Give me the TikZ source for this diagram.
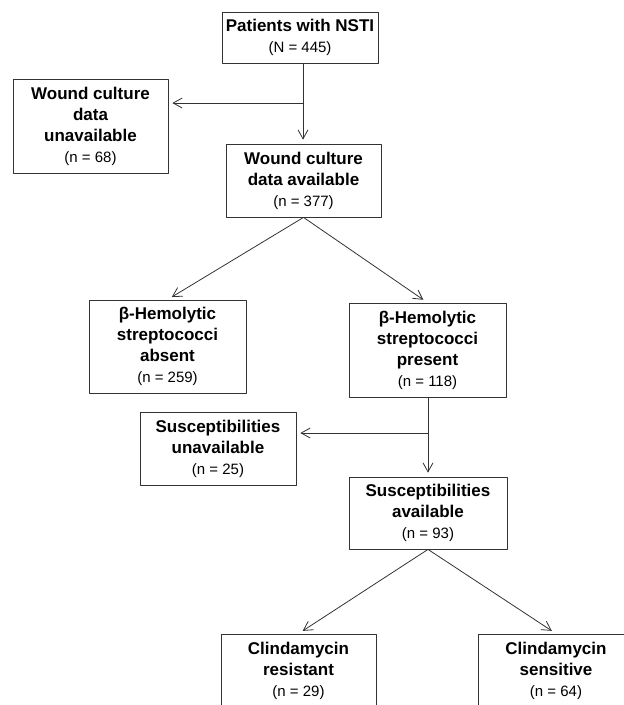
\documentclass[tikz,border=0pt]{standalone}
\usepackage{fontspec}
\setmainfont{Liberation Sans}
\usetikzlibrary{arrows.meta}
\definecolor{edge}{HTML}{333333}
\newcommand{\cnt}[1]{{\fontsize{15}{21}\selectfont\mdseries (#1)}}
\tikzset{
	box/.style={draw=edge,line width=0.8pt,inner sep=0pt,align=center,
		font=\fontsize{17}{21}\selectfont\bfseries,text=black},
	flow/.style={draw=edge,line width=0.8pt,shorten >=4pt,
		-{Straight Barb[length=9pt,width=10pt,line width=0.8pt]}}
}
\begin{document}
\begin{tikzpicture}[x=1pt,y=-1pt,line join=round,line cap=round]
	\useasboundingbox (0,0) rectangle (624,705);
	\clip (0,0) rectangle (624,705);
	% boxes
	\node[box,minimum width=156pt,minimum height=51pt] (nsti) at (300,37.5) {Patients with NSTI\\\cnt{N = 445}};
	\node[box,minimum width=155pt,minimum height=94pt] (wcu) at (90.5,126) {Wound culture\\data\\unavailable\\\cnt{n = 68}};
	\node[box,minimum width=155pt,minimum height=73pt] (wca) at (303.5,180.5) {Wound culture\\data available\\\cnt{n = 377}};
	\node[box,minimum width=157pt,minimum height=93pt] (absent) at (167.5,346.5) {β-Hemolytic\\streptococci\\absent\\\cnt{n = 259}};
	\node[box,minimum width=157pt,minimum height=94pt] (present) at (427.5,350) {β-Hemolytic\\streptococci\\present\\\cnt{n = 118}};
	\node[box,minimum width=156pt,minimum height=73pt] (susu) at (218,448.5) {Susceptibilities\\unavailable\\\cnt{n = 25}};
	\node[box,minimum width=158pt,minimum height=72pt] (susa) at (428,513) {Susceptibilities\\available\\\cnt{n = 93}};
	\node[box,minimum width=155pt,minimum height=73pt] (resist) at (298.5,670.5) {Clindamycin\\resistant\\\cnt{n = 29}};
	\node[box,minimum width=156pt,minimum height=73pt] (sens) at (556,670.5) {Clindamycin\\sensitive\\\cnt{n = 64}};
	% junctions
	\path
	(303,103) coordinate (j1)
	(428,433) coordinate (j2);
	% connectors
	\draw[flow] (j1 |- nsti.south) -- (j1 |- wca.north);
	\draw[flow] (j1) -- (wcu.east |- j1);
	\draw[flow,shorten >=5pt] (wca.south) -- (absent.north);
	\draw[flow,shorten >=5pt] (wca.south) -- (present.north);
	\draw[flow] (j2 |- present.south) -- (j2 |- susa.north);
	\draw[flow] (j2) -- (susu.east |- j2);
	\draw[flow,shorten >=5pt] (susa.south) -- (resist.north);
	\draw[flow,shorten >=5pt] (susa.south) -- (sens.north);
\end{tikzpicture}
\end{document}
